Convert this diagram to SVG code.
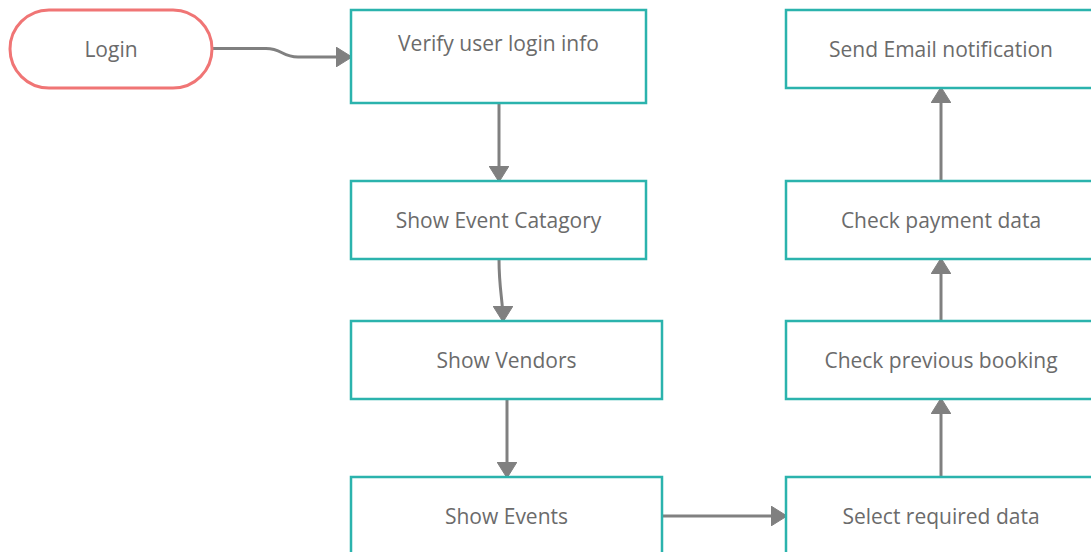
<svg xmlns="http://www.w3.org/2000/svg" width="1091" height="552" viewBox="0 0 1091 552">
  <defs>
    <marker id="arrow" viewBox="0 0 16 20" refX="15" refY="10" markerWidth="16" markerHeight="20" markerUnits="userSpaceOnUse" orient="auto">
      <path d="M0,0 L16,10 L0,20 Z" fill="#808080" stroke="#808080" stroke-width="1" stroke-linejoin="round"/>
    </marker>
  </defs>
  <style>
    .box { fill: #ffffff; stroke: #2bb3ad; stroke-width: 2.5; }
    .start { fill: #ffffff; stroke: #f07575; stroke-width: 3; }
    .label { font-family: "Open Sans", "Noto Sans", sans-serif; font-size: 21px; fill: #6b6b6b; text-anchor: middle; dominant-baseline: central; }
    .link { fill: none; stroke: #808080; stroke-width: 3; marker-end: url(#arrow); }
  </style>
  <rect width="1091" height="552" fill="#ffffff"/>

  <g id="connectors">
    <path class="link" d="M212,48.5 L266,48.5 C282,48.5 282,57 298,57 L351,57"/>
    <path class="link" d="M499,103 L499,181"/>
    <path class="link" d="M499,259 C499,290 503,300 503,321"/>
    <path class="link" d="M507,399 L507,477"/>
    <path class="link" d="M662,516 L786,516"/>
    <path class="link" d="M941,477 L941,399"/>
    <path class="link" d="M941,321 L941,259"/>
    <path class="link" d="M941,181 L941,88"/>
  </g>

  <g id="login">
    <rect class="start" x="10" y="10" width="202" height="78" rx="39" ry="39"/>
    <text class="label" x="111" y="49">Login</text>
  </g>
  <g id="verify">
    <rect class="box" x="351" y="10" width="295" height="93"/>
    <text class="label" x="498.5" y="43">Verify user login info</text>
  </g>
  <g id="category">
    <rect class="box" x="351" y="181" width="295" height="78"/>
    <text class="label" x="498.5" y="220">Show Event Catagory</text>
  </g>
  <g id="vendors">
    <rect class="box" x="351" y="321" width="311" height="78"/>
    <text class="label" x="506.5" y="360">Show Vendors</text>
  </g>
  <g id="events">
    <rect class="box" x="351" y="477" width="311" height="90"/>
    <text class="label" x="506.5" y="516">Show Events</text>
  </g>
  <g id="email">
    <rect class="box" x="786" y="10" width="310" height="78"/>
    <text class="label" x="941" y="49">Send Email notification</text>
  </g>
  <g id="payment">
    <rect class="box" x="786" y="181" width="310" height="78"/>
    <text class="label" x="941" y="220">Check payment data</text>
  </g>
  <g id="booking">
    <rect class="box" x="786" y="321" width="310" height="78"/>
    <text class="label" x="941" y="360">Check previous booking</text>
  </g>
  <g id="select">
    <rect class="box" x="786" y="477" width="310" height="90"/>
    <text class="label" x="941" y="516">Select required data</text>
  </g>
</svg>
